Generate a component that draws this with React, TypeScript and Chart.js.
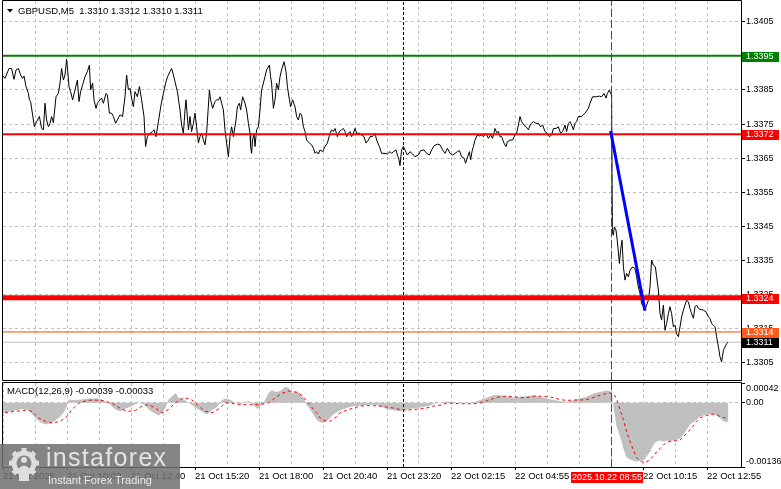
import React, { useEffect, useRef } from "react";
import { Chart, registerables } from "chart.js";

Chart.register(...registerables);

const FONT_FAMILY = '"Liberation Sans", Arial, sans-serif';

const SYMBOL_TITLE = "GBPUSD,M5  1.3310 1.3312 1.3310 1.3311";
const MACD_TITLE = "MACD(12,26,9) -0.00039 -0.00033";

const BAR_COUNT = 369;
const PRICE_MIN = 1.32999;
const PRICE_MAX = 1.34111;
const PRICE_TICKS = [1.3305, 1.3315, 1.3325, 1.3335, 1.3345, 1.3355, 1.3365, 1.3375, 1.3385, 1.3395, 1.3405];

// [bar index, close price]
const PRICE: [number, number][] = [
  [0, 1.33891], [1, 1.33884], [3, 1.33913], [4.3, 1.33913], [5.5, 1.33881], [6.5, 1.33909], [7.7, 1.33913], [8.8, 1.33894],
  [9.8, 1.33884], [10.5, 1.33891], [11.5, 1.3386], [12.7, 1.3384], [13.2, 1.33821], [13.8, 1.33816], [14.8, 1.33777], [15.7, 1.33742],
  [16.8, 1.33757], [18.2, 1.33772], [19.3, 1.33737], [20.2, 1.33733], [21, 1.33811], [21.8, 1.33762], [22.7, 1.33742], [23.5, 1.33752],
  [24.3, 1.33772], [25.2, 1.33754], [26.5, 1.3383], [27.7, 1.3384], [28.5, 1.3387], [29.3, 1.33913], [30.2, 1.33879], [31, 1.33894],
  [31.8, 1.3394], [32.3, 1.33909], [33, 1.3386], [33.8, 1.33845], [34.8, 1.33821], [36, 1.3385], [37.2, 1.33879], [38, 1.33816],
  [38.8, 1.33845], [39.8, 1.33865], [41, 1.33889], [42.2, 1.33904], [43.2, 1.33923], [43.8, 1.3385], [44.8, 1.3387], [45.5, 1.33821],
  [46.5, 1.33796], [47.2, 1.33811], [48.5, 1.33821], [49.3, 1.33826], [50.2, 1.33811], [51.5, 1.3384], [52.2, 1.33835], [53.2, 1.33782],
  [54.3, 1.33782], [55.2, 1.33772], [56.3, 1.33752], [57.2, 1.33762], [58.5, 1.33777], [59.8, 1.33772], [61, 1.3383], [61.8, 1.33894],
  [62.7, 1.3385], [63.5, 1.33855], [64.3, 1.33826], [65.2, 1.33801], [66, 1.33845], [67.2, 1.3383], [68.2, 1.3386], [69.3, 1.33821],
  [70.5, 1.33772], [71.3, 1.33684], [72.2, 1.33713], [73.5, 1.33723], [74.8, 1.33728], [75.5, 1.33733], [76.5, 1.33713], [77.7, 1.33757],
  [79, 1.33806], [80.2, 1.3384], [81.3, 1.3387], [82.3, 1.33889], [83.5, 1.33904], [84.3, 1.33913], [85.2, 1.33894], [86, 1.33874],
  [87.2, 1.33845], [88.5, 1.33791], [89.3, 1.33747], [90.2, 1.33723], [91, 1.33791], [91.5, 1.33821], [92.7, 1.33733], [93.5, 1.33772],
  [94.3, 1.33728], [95.2, 1.33752], [96, 1.33782], [96.8, 1.33742], [97.7, 1.33694], [98.5, 1.33713], [99.3, 1.33723], [100.2, 1.33703],
  [101, 1.33689], [101.8, 1.33723], [103.2, 1.3385], [103.8, 1.33821], [104.8, 1.33796], [106, 1.33816], [106.8, 1.33821], [107.8, 1.33821],
  [108.5, 1.3383], [109.3, 1.33811], [110.2, 1.33791], [111, 1.33733], [111.8, 1.33694], [112.7, 1.33654], [113.5, 1.33713], [114.3, 1.33742],
  [115.2, 1.33713], [116.5, 1.33762], [117.2, 1.33801], [118.2, 1.33811], [118.8, 1.33791], [119.8, 1.3383], [121, 1.33811], [121.8, 1.33791],
  [122.7, 1.33752], [123.5, 1.33723], [123.8, 1.33684], [124.3, 1.33664], [124.8, 1.33703], [125.5, 1.33723], [126, 1.33684], [126.8, 1.33733],
  [127.7, 1.33742], [128.5, 1.33791], [129.3, 1.3385], [130.2, 1.3387], [131, 1.33889], [131.8, 1.33909], [133.2, 1.33923], [133.8, 1.33889],
  [134.3, 1.3387], [135.2, 1.33796], [136, 1.33821], [136.8, 1.3387], [137.7, 1.3385], [138.5, 1.33889], [139.3, 1.33909], [140.5, 1.33933],
  [141.5, 1.33904], [142.2, 1.3386], [143.2, 1.33821], [143.8, 1.33801], [144.8, 1.33821], [146, 1.33801], [146.8, 1.33772], [147.7, 1.33762],
  [148.5, 1.33782], [149.3, 1.33777], [150.2, 1.33742], [151, 1.33728], [151.8, 1.33703], [153.2, 1.33694], [154.3, 1.33689], [155.2, 1.33679],
  [156, 1.33664], [156.8, 1.33669], [157.7, 1.33662], [158.5, 1.33674], [159.8, 1.33669], [161, 1.33684], [162.2, 1.33694], [163.5, 1.33723],
  [164.3, 1.33733], [165.2, 1.33728], [166, 1.33737], [167.2, 1.33713], [168.2, 1.33728], [169.3, 1.33733], [170.2, 1.33737], [171, 1.33728],
  [171.8, 1.33713], [172.7, 1.33723], [173.5, 1.33728], [174.3, 1.33713], [175.2, 1.33723], [176, 1.33737], [176.8, 1.33723], [178.2, 1.33723],
  [179.3, 1.33718], [180.5, 1.33713], [181.5, 1.33694], [182.7, 1.33703], [183.5, 1.33713], [184.8, 1.33713], [186, 1.33723], [186.8, 1.33703],
  [188.2, 1.33684], [189.3, 1.33664], [191, 1.33664], [192.2, 1.33662], [193.5, 1.33669], [194.3, 1.33664], [195.2, 1.33669], [196.5, 1.33674],
  [197.2, 1.33659], [198, 1.33645], [198.5, 1.33628], [199.3, 1.33674], [200.2, 1.33684], [201, 1.33674], [202.2, 1.33659], [203.5, 1.33669],
  [204.8, 1.33662], [206, 1.33654], [207.7, 1.33659], [208.8, 1.33672], [210.5, 1.33674], [211.8, 1.33664], [213.2, 1.33659], [214.3, 1.33674],
  [215.5, 1.33686], [217.2, 1.33691], [218.5, 1.33689], [219.8, 1.33674], [221, 1.33664], [222.2, 1.33679], [223.5, 1.33664], [224.8, 1.33659],
  [226, 1.33664], [227.2, 1.33669], [228.2, 1.33672], [229.3, 1.33654], [230.5, 1.3365], [231.3, 1.33635], [232.3, 1.33654], [233.2, 1.33669],
  [233.8, 1.33645], [234.5, 1.33669], [235.2, 1.33684], [236, 1.33703], [237.2, 1.33718], [238.2, 1.33715], [239.3, 1.33718], [240.2, 1.33713],
  [241.5, 1.33723], [242.7, 1.33708], [243.8, 1.33718], [244.8, 1.33708], [246, 1.33737], [246.8, 1.33725], [247.7, 1.33728], [248.5, 1.33713],
  [249.3, 1.33713], [250.5, 1.33694], [251.5, 1.33684], [252.2, 1.33698], [253.5, 1.33703], [254.8, 1.33703], [256, 1.33718], [256.8, 1.33723],
  [257.7, 1.33747], [258.5, 1.33772], [259.3, 1.33757], [260.5, 1.33747], [261.5, 1.33742], [262.7, 1.33733], [263.8, 1.3375], [265.2, 1.33757],
  [266.5, 1.33752], [267.7, 1.33752], [268.8, 1.33742], [269.8, 1.33747], [271, 1.33728], [272.2, 1.33723], [273.2, 1.33713], [274.3, 1.33718],
  [275.2, 1.33737], [276.5, 1.33737], [277.7, 1.33742], [278.8, 1.33723], [279.8, 1.33728], [281, 1.33747], [281.8, 1.33728], [282.7, 1.33752],
  [283.5, 1.33757], [284.3, 1.33747], [285.2, 1.33733], [286, 1.33752], [286.8, 1.33757], [287.7, 1.33772], [289.3, 1.33772], [291, 1.33782],
  [292.7, 1.33796], [293.5, 1.33811], [294.8, 1.3383], [296.8, 1.3383], [298.2, 1.33832], [299.3, 1.3383], [300.5, 1.3384], [301.5, 1.33826],
  [302.2, 1.3384], [303.2, 1.3385], [303.8, 1.3384], [304.3, 1.33835], [304.7, 1.33429], [305.2, 1.33424], [305.7, 1.33448], [306.5, 1.33439],
  [307.2, 1.33404], [308.2, 1.33341], [308.8, 1.3338], [309.5, 1.33409], [310.2, 1.33331], [311, 1.33292], [311.8, 1.33312], [312.7, 1.33302],
  [313.5, 1.33321], [314.8, 1.33331], [316, 1.33326], [316.8, 1.33302], [317.7, 1.33272], [318.5, 1.33253], [319.3, 1.33223], [320.2, 1.33214],
  [321, 1.33204], [321.8, 1.33219], [322.7, 1.33233], [323.5, 1.33272], [324.3, 1.33351], [325.2, 1.33336], [326.2, 1.33331], [326.8, 1.33302],
  [327.7, 1.33263], [328.5, 1.33194], [329.3, 1.33175], [330.2, 1.33219], [331, 1.33145], [331.8, 1.33165], [332.7, 1.33194], [333.5, 1.33214],
  [334.3, 1.33194], [335.2, 1.33155], [336, 1.3316], [336.8, 1.33135], [337.7, 1.33126], [338.5, 1.33155], [339.3, 1.33184], [340.2, 1.33204],
  [341, 1.33219], [341.8, 1.33233], [342.7, 1.33228], [343.5, 1.33209], [344.3, 1.33194], [345.2, 1.3318], [346, 1.33214], [346.8, 1.33219],
  [347.7, 1.33209], [348.5, 1.33206], [350.2, 1.33204], [351.5, 1.33199], [352.7, 1.33184], [353.5, 1.3318], [354.3, 1.33165], [355.2, 1.3316],
  [356, 1.33155], [356.8, 1.33126], [357.7, 1.33096], [358.5, 1.33067], [359.3, 1.33052], [360.2, 1.33086], [361, 1.33096], [361.8, 1.33106],
  [362.5, 1.3311],
];

// horizontal levels drawn on the price panel
const LEVEL_VALUES = [1.3395, 1.3372, 1.3324, 1.3314, 1.3311];
const LEVEL_COLORS = ["#008000", "#ff0000", "#ff0000", "#ff4500", "#c0c0c0"];
const LEVEL_WIDTHS = [2, 2, 5, 1, 1];
const LEVEL_LABEL_BG = ["#008000", "#ff0000", "#ff0000", "#ff5a1a", "#000000"];

// blue trend line [bar, price]
const TREND_LINE: [number, number][] = [
  [303.8, 1.3373],
  [321, 1.33202],
];

const GRID_BARS = [16, 32, 48, 64, 80, 96, 112, 128, 144, 160, 176, 192, 208, 224, 240, 256, 272, 288, 304, 320, 336, 352];
const DAY_SEPARATOR_BAR = 200.25;
const CROSSHAIR_BAR = 304.25;
const CROSSHAIR_LABEL = "2025.10.22 08:55";

const X_LABEL_BARS = [0, 32, 64, 96, 128, 160, 192, 224, 256, 320, 352];
const X_LABELS = [
  "21 Oct 2025", "21 Oct 10:00", "21 Oct 12:40", "21 Oct 15:20", "21 Oct 18:00", "21 Oct 20:40",
  "21 Oct 23:20", "22 Oct 02:15", "22 Oct 04:55", "22 Oct 10:15", "22 Oct 12:55",
];

const MACD_MIN = -0.00136;
const MACD_MAX = 0.00042;
const MACD_TICKS = [-0.00136, 0, 0.00042];
const MACD_TICK_LABELS = ["-0.00136", "0.00", "0.00042"];

// [bar, MACD main value] (histogram)
const MACD_HIST: [number, number][] = [
  [0, -0.00021], [4.5, -0.00018], [9.5, -0.00013], [12.8, -0.00016], [16.2, -0.00032], [18.7, -0.00041], [21.2, -0.00046],
  [24.5, -0.00043], [27.8, -0.00032], [30.3, -0.00021], [32, -0.00007], [32.8, 0.00007], [35.3, 0.00006], [39.5, 0.00007],
  [42.8, 0.00009], [46.2, 0.00009], [49.5, 0.00007], [52.8, -0.00001], [56.2, -0.00014], [58.7, -0.00018], [61.2, -0.00013],
  [64.5, -0.00007], [67.8, 0], [71.2, -0.00004], [72.8, -0.00014], [75.3, -0.00021], [77.8, -0.00027], [79.5, -0.00021],
  [81.2, -0.00011], [82.8, 0.00007], [84.5, 0.00014], [86.2, 0.00021], [87.8, 0.00011], [90.3, 0.00007], [92.8, 0],
  [95.3, -0.00007], [97.8, -0.00014], [100.3, -0.00021], [102, -0.00025], [104.5, -0.00016], [107, -0.00009], [109.5, 0.00006],
  [111.2, 0.00009], [113.7, 0.00006], [116.2, 0], [118.7, -0.00004], [121.2, 0.00001], [122.8, 0.00004], [124.5, -0.00001],
  [127, -0.00013], [129.5, -0.00004], [131.2, 0.00007], [132.8, 0.00021], [134.5, 0.00027], [136.2, 0.00023], [138.7, 0.00025],
  [141.2, 0.00034], [142.8, 0.00032], [144.5, 0.00021], [147, 0.00025], [148.5, 0.00018], [150.2, 0.00011], [151.8, -0.00004],
  [153.5, -0.00014], [155.2, -0.00025], [156.8, -0.00036], [158.5, -0.00041], [160.2, -0.00043], [161.8, -0.00039], [163.5, -0.00032],
  [165.2, -0.00025], [166.8, -0.0002], [168.5, -0.00016], [170.2, -0.00013], [171.8, -0.00011], [175.2, -0.00007], [178.5, -0.00006],
  [181.8, -0.00004], [185.2, -0.00004], [188.5, -0.00007], [191.8, -0.00013], [195.2, -0.00016], [198.5, -0.00018], [200.2, -0.00016],
  [203.5, -0.00013], [206.8, -0.00011], [210.2, -0.00009], [213.5, -0.00006], [215.2, -0.00002], [218.5, 0], [221.8, 0.00003],
  [225.2, 0.00001], [228.5, -0.00001], [231.8, -0.00001], [235.2, 0], [238.5, 0.00006], [241.8, 0.00011], [245.2, 0.00016],
  [248.5, 0.00016], [251.8, 0.00014], [255.2, 0.00011], [258.5, 0.00013], [261.8, 0.00014], [265.2, 0.00016], [268.5, 0.00013],
  [271.8, 0.00009], [275.2, 0.00006], [278.5, 0.00004], [281.8, 0.00001], [285.2, 0.00006], [288.5, 0.00009], [291.8, 0.00013],
  [295.2, 0.0002], [298.5, 0.00023], [301.8, 0.00026], [303.5, 0.00025], [304.5, 0.00018], [305.2, -0.00007], [306, -0.00029],
  [306.8, -0.0005], [307.7, -0.00061], [308.5, -0.00072], [309.3, -0.00082], [310.2, -0.00097], [311, -0.00107], [311.8, -0.00116],
  [313.5, -0.0012], [315.2, -0.00123], [316.8, -0.00125], [318.5, -0.00123], [320.2, -0.00122], [321.8, -0.00114], [323.5, -0.00104],
  [325.2, -0.00089], [326.8, -0.00082], [328.5, -0.0008], [330.2, -0.00082], [331.8, -0.0008], [333.5, -0.00082], [335.2, -0.0008],
  [336.8, -0.00079], [338.5, -0.00075], [340.2, -0.00068], [341.8, -0.00057], [343.5, -0.00046], [345.2, -0.00041], [346.8, -0.00036],
  [348.5, -0.00029], [350.2, -0.00027], [351.8, -0.00025], [353.5, -0.00025], [355.2, -0.00025], [356.8, -0.00027], [358.5, -0.00032],
  [360.2, -0.00039], [361.8, -0.00041], [362.7, -0.00039],
];

// [bar, MACD signal value]
const MACD_SIGNAL: [number, number][] = [
  [1, -0.00021], [6.2, -0.00018], [11.2, -0.00016], [14.5, -0.00018], [17.8, -0.00032], [21.2, -0.00039], [24.5, -0.00043],
  [28.7, -0.00039], [32, -0.00029], [34.5, -0.00014], [37.8, -0.00001], [41.2, 0.00004], [44.5, 0.00006], [49.5, 0.00005],
  [54.5, -0.00001], [59.5, -0.00014], [62.8, -0.00018], [66.2, -0.00016], [69.5, -0.00007], [72.8, -0.00004], [76.2, -0.00011],
  [79.5, -0.00021], [82.8, -0.00014], [86.2, 0], [90.3, 0.00011], [94.5, 0.00006], [97.8, -0.00007], [101.2, -0.00018],
  [104.5, -0.00021], [107.8, -0.00013], [111.2, 0], [114.5, -0.00001], [117.8, -0.00004], [122.8, -0.00004], [127.8, -0.00004],
  [132.8, 0], [136.2, 0.00011], [139.5, 0.0002], [142.8, 0.00025], [146.2, 0.00023], [148.5, 0.00019], [150.2, 0.00011],
  [151.8, 0.00004], [153.5, -0.00004], [155.2, -0.00014], [156.8, -0.00021], [158.5, -0.00032], [160.2, -0.00037], [161.8, -0.00039],
  [163.5, -0.00039], [165.2, -0.00034], [166.8, -0.00029], [168.5, -0.00021], [170.2, -0.00018], [171.8, -0.00016], [175.2, -0.00011],
  [178.5, -0.00007], [181.8, -0.00006], [185.2, -0.00006], [188.5, -0.00007], [191.8, -0.00009], [195.2, -0.00011], [198.5, -0.00014],
  [201.8, -0.00016], [205.2, -0.00014], [208.5, -0.00013], [211.8, -0.00011], [215.2, -0.00007], [218.5, -0.00005], [221.8, -0.00001],
  [225.2, -0.00001], [228.5, -0.00002], [231.8, -0.00002], [235.2, -0.00002], [238.5, 0], [241.8, 0.00004], [245.2, 0.00009],
  [248.5, 0.00013], [251.8, 0.00014], [255.2, 0.00013], [258.5, 0.00011], [261.8, 0.00011], [265.2, 0.00014], [268.5, 0.00014],
  [271.8, 0.00013], [275.2, 0.00011], [278.5, 0.00007], [281.8, 0.00005], [285.2, 0.00006], [288.5, 0.00006], [291.8, 0.00007],
  [295.2, 0.00011], [298.5, 0.00016], [301.8, 0.0002], [304.3, 0.00021], [305.5, 0.00018], [306.8, 0.00008], [308.5, -0.00014],
  [310.2, -0.00036], [311.8, -0.00061], [313.5, -0.00082], [315.2, -0.001], [316.8, -0.00116], [318.5, -0.00123], [320.2, -0.00127],
  [321.8, -0.00125], [323.5, -0.0012], [325.2, -0.00113], [326.8, -0.00104], [328.5, -0.00097], [330.2, -0.00089], [331.8, -0.00084],
  [333.5, -0.00082], [335.2, -0.00081], [336.8, -0.0008], [338.5, -0.00079], [340.2, -0.00072], [341.8, -0.00064], [343.5, -0.00057],
  [345.2, -0.00049], [346.8, -0.00039], [348.5, -0.00032], [350.2, -0.00029], [351.8, -0.00027], [353.5, -0.00025], [355.2, -0.00024],
  [356.8, -0.00025], [358.5, -0.00029], [360.2, -0.00031], [362.5, -0.00033],
];

const toXY = (arr: [number, number][]) => arr.map(([x, y]) => ({ x, y }));
const TRANSPARENT = "rgba(0,0,0,0)";

const framePlugin = {
  id: "frame",
  afterDraw(chart: any) {
    const { left, top, right, bottom } = chart.chartArea;
    const ctx = chart.ctx;
    ctx.save();
    ctx.strokeStyle = "#000";
    ctx.lineWidth = 1;
    ctx.setLineDash([]);
    ctx.beginPath();
    ctx.moveTo(left - 0.5, top - 0.5);
    ctx.lineTo(right + 0.5, top - 0.5);
    ctx.moveTo(left - 0.5, top - 0.5);
    ctx.lineTo(left - 0.5, bottom + 0.5);
    ctx.moveTo(left - 0.5, bottom + 0.5);
    ctx.lineTo(right + 0.5, bottom + 0.5);
    ctx.moveTo(right + 0.5, top - 0.5);
    ctx.lineTo(right + 0.5, bottom + 0.5);
    ctx.stroke();
    ctx.restore();
  },
};

const mainOverlayPlugin = {
  id: "mainOverlay",
  afterDraw(chart: any) {
    const ctx = chart.ctx;
    const yScale = chart.scales.y;
    const { right } = chart.chartArea;
    ctx.save();
    // level labels on the price axis
    ctx.font = `9px ${FONT_FAMILY}`;
    ctx.textBaseline = "middle";
    ctx.textAlign = "left";
    LEVEL_VALUES.forEach((v, i) => {
      const py = Math.round(yScale.getPixelForValue(v));
      ctx.fillStyle = LEVEL_LABEL_BG[i];
      ctx.fillRect(right + 1, py - 4, 37, 10);
      ctx.fillStyle = "#ffffff";
      ctx.fillText(v.toFixed(4), right + 5, py + 1);
    });
    // title
    ctx.fillStyle = "#000";
    ctx.beginPath();
    ctx.moveTo(7, 9);
    ctx.lineTo(13, 9);
    ctx.lineTo(10, 12.5);
    ctx.closePath();
    ctx.fill();
    ctx.font = `9.5px ${FONT_FAMILY}`;
    ctx.fillText(SYMBOL_TITLE, 18, 11);
    ctx.restore();
  },
};

const macdOverlayPlugin = {
  id: "macdOverlay",
  afterDraw(chart: any) {
    const ctx = chart.ctx;
    const xScale = chart.scales.x;
    const { bottom } = chart.chartArea;
    ctx.save();
    ctx.fillStyle = "#000";
    ctx.font = `9.5px ${FONT_FAMILY}`;
    ctx.textBaseline = "middle";
    ctx.textAlign = "left";
    ctx.fillText(MACD_TITLE, 7, 10.5);
    // crosshair time label
    const px = xScale.getPixelForValue(CROSSHAIR_BAR);
    ctx.font = `9px ${FONT_FAMILY}`;
    const w = 72;
    const bx = Math.round(px - 40.5);
    ctx.fillStyle = "#ff0000";
    ctx.fillRect(bx, bottom + 5, w, 11);
    ctx.fillStyle = "#ffffff";
    ctx.textAlign = "center";
    ctx.fillText(CROSSHAIR_LABEL, bx + w / 2, bottom + 11);
    ctx.restore();
  },
};

function verticalLine(x: number, yMin: number, yMax: number, color: string, dash: number[]) {
  return {
    type: "line" as const,
    data: [
      { x, y: yMin },
      { x, y: yMax },
    ],
    borderColor: color,
    borderWidth: 1,
    borderDash: dash,
    pointRadius: 0,
    fill: false,
    order: 4,
  };
}

export default function App() {
  const mainRef = useRef<HTMLCanvasElement | null>(null);
  const macdRef = useRef<HTMLCanvasElement | null>(null);

  useEffect(() => {
    if (!mainRef.current || !macdRef.current) return;

    const levelDatasets = LEVEL_VALUES.map((v, i) => ({
      type: "line" as const,
      data: [
        { x: 0, y: v },
        { x: BAR_COUNT, y: v },
      ],
      borderColor: LEVEL_COLORS[i],
      borderWidth: LEVEL_WIDTHS[i],
      pointRadius: 0,
      fill: false,
      order: i === 4 ? 12 : 5,
    }));

    const mainChart = new Chart(mainRef.current, {
      type: "line",
      data: {
        datasets: [
          {
            data: toXY(PRICE),
            borderColor: "#000000",
            borderWidth: 1,
            pointRadius: 0,
            fill: false,
            tension: 0,
            order: 10,
          },
          ...levelDatasets,
          verticalLine(DAY_SEPARATOR_BAR, PRICE_MIN, PRICE_MAX, "#000000", [3, 2]),
          verticalLine(CROSSHAIR_BAR, PRICE_MIN, PRICE_MAX, "#ff0000", [8, 3]),
          {
            data: toXY(TREND_LINE),
            borderColor: "#0000ff",
            borderWidth: 3,
            pointRadius: 0,
            fill: false,
            order: 1,
          },
        ] as any,
      },
      options: {
        responsive: false,
        animation: false,
        devicePixelRatio: 1,
        events: [],
        layout: { padding: { left: 3, top: 1, right: 0, bottom: 1 }, autoPadding: false } as any,
        plugins: { legend: { display: false }, tooltip: { enabled: false } },
        scales: {
          x: {
            type: "linear",
            min: 0,
            max: BAR_COUNT,
            afterBuildTicks: (s: any) => {
              s.ticks = GRID_BARS.map((v) => ({ value: v }));
            },
            afterFit: (s: any) => {
              s.height = 0;
              s.paddingLeft = 0;
              s.paddingRight = 0;
            },
            ticks: { display: false },
            grid: { color: "#c0c0c0", drawTicks: false, lineWidth: 1 },
            border: { display: false, dash: [3, 3] },
          },
          y: {
            type: "linear",
            position: "right",
            min: PRICE_MIN,
            max: PRICE_MAX,
            afterBuildTicks: (s: any) => {
              s.ticks = PRICE_TICKS.map((v) => ({ value: v }));
            },
            afterFit: (s: any) => {
              s.width = 40;
              s.paddingTop = 0;
              s.paddingBottom = 0;
            },
            ticks: {
              color: "#000",
              font: { family: FONT_FAMILY, size: 9 },
              padding: 1,
              autoSkip: false,
              callback: (v: any) => Number(v).toFixed(4),
            },
            grid: { color: "#c0c0c0", tickColor: "#000", tickLength: 4, drawTicks: true },
            border: { display: true, color: "#000", dash: [3, 3] },
          },
        },
      } as any,
      plugins: [framePlugin, mainOverlayPlugin],
    });

    const xTicks = [0, ...GRID_BARS];

    const macdChart = new Chart(macdRef.current, {
      type: "line",
      data: {
        datasets: [
          {
            data: toXY(MACD_HIST),
            borderColor: "#c0c0c0",
            borderWidth: 0,
            backgroundColor: "#c0c0c0",
            fill: "origin",
            pointRadius: 0,
            tension: 0,
            order: 10,
          },
          {
            data: toXY(MACD_SIGNAL),
            borderColor: "#ff0000",
            borderWidth: 1,
            borderDash: [3, 3],
            pointRadius: 0,
            fill: false,
            tension: 0,
            order: 1,
          },
          verticalLine(DAY_SEPARATOR_BAR, MACD_MIN, MACD_MAX, "#000000", [3, 2]),
          verticalLine(CROSSHAIR_BAR, MACD_MIN, MACD_MAX, "#ff0000", [8, 3]),
        ] as any,
      },
      options: {
        responsive: false,
        animation: false,
        devicePixelRatio: 1,
        events: [],
        layout: { padding: { left: 3, top: 2, right: 0, bottom: 0 }, autoPadding: false } as any,
        plugins: { legend: { display: false }, tooltip: { enabled: false } },
        scales: {
          x: {
            type: "linear",
            min: 0,
            max: BAR_COUNT,
            afterBuildTicks: (s: any) => {
              s.ticks = xTicks.map((v) => ({ value: v }));
            },
            afterFit: (s: any) => {
              s.height = 22;
              s.paddingLeft = 0;
              s.paddingRight = 0;
            },
            ticks: {
              align: "start",
              maxRotation: 0,
              minRotation: 0,
              autoSkip: false,
              padding: 1,
              color: "#000",
              font: { family: FONT_FAMILY, size: 9.5 },
              callback: (v: any) => {
                const idx = X_LABEL_BARS.indexOf(Number(v));
                return idx >= 0 ? X_LABELS[idx] : "";
              },
            },
            grid: {
              color: "#c0c0c0",
              lineWidth: 1,
              tickLength: 3,
              tickColor: (ctx: any) =>
                ctx.tick && X_LABEL_BARS.indexOf(ctx.tick.value) >= 0 ? "#000" : TRANSPARENT,
            },
            border: { display: true, color: "#000", dash: [3, 3] },
          },
          y: {
            type: "linear",
            position: "right",
            min: MACD_MIN,
            max: MACD_MAX,
            afterBuildTicks: (s: any) => {
              s.ticks = MACD_TICKS.map((v) => ({ value: v }));
            },
            afterFit: (s: any) => {
              s.width = 40;
              s.paddingTop = 0;
              s.paddingBottom = 0;
            },
            ticks: {
              color: "#000",
              font: { family: FONT_FAMILY, size: 9 },
              padding: 1,
              autoSkip: false,
              callback: (_v: any, i: number) => {
                const label = MACD_TICK_LABELS[i];
                if (i === MACD_TICKS.length - 1) return ["", label];
                if (i === 0) return [label, ""];
                return label;
              },
            },
            grid: {
              color: (ctx: any) => (ctx.tick && ctx.tick.value === 0 ? "#c0c0c0" : TRANSPARENT),
              tickColor: "#000",
              tickLength: 4,
            },
            border: { display: true, color: "#000", dash: [3, 3] },
          },
        },
      } as any,
      plugins: [framePlugin, macdOverlayPlugin],
    });

    return () => {
      mainChart.destroy();
      macdChart.destroy();
    };
  }, []);

  const gearTeeth = [0, 45, 90, 135, 180, 225, 270, 315];

  return (
    <div
      style={{
        position: "absolute",
        left: 0,
        top: 0,
        width: 781,
        height: 489,
        background: "#ffffff",
        overflow: "hidden",
      }}
    >
      <canvas
        ref={mainRef}
        width={781}
        height={381}
        style={{ position: "absolute", left: 0, top: 0, width: 781, height: 381 }}
      />
      <canvas
        ref={macdRef}
        width={781}
        height={108}
        style={{ position: "absolute", left: 0, top: 381, width: 781, height: 108 }}
      />
      <div
        style={{
          position: "absolute",
          left: 0,
          top: 444,
          width: 180,
          height: 45,
          background: "rgba(112,112,112,0.86)",
        }}
      >
        <svg
          width={36}
          height={36}
          viewBox="0 0 36 36"
          style={{ position: "absolute", left: 6, top: 3 }}
        >
          {gearTeeth.map((a) => (
            <rect
              key={a}
              x={15.5}
              y={1}
              width={5}
              height={6}
              fill="#dedede"
              transform={`rotate(${a} 18 16)`}
            />
          ))}
          <circle cx={18} cy={16} r={10} fill="none" stroke="#dedede" strokeWidth={5} />
          <circle cx={18} cy={13} r={3} fill="#dedede" />
          <path d="M13 34 L13 21 Q18 16 23 21 L23 34 Z" fill="#dedede" />
        </svg>
        <div
          style={{
            position: "absolute",
            left: 46,
            top: 1,
            fontFamily: FONT_FAMILY,
            fontSize: 25,
            lineHeight: "25px",
            letterSpacing: 1.3,
            color: "#e4e4e4",
            whiteSpace: "nowrap",
          }}
        >
          instaforex
        </div>
        <div
          style={{
            position: "absolute",
            left: 48,
            top: 31,
            fontFamily: FONT_FAMILY,
            fontSize: 11,
            lineHeight: "11px",
            color: "#ececec",
            whiteSpace: "nowrap",
          }}
        >
          Instant Forex Trading
        </div>
      </div>
    </div>
  );
}
